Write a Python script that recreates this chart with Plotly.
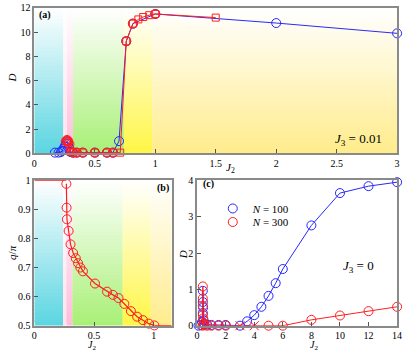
import plotly.graph_objects as go

W, H = 407, 353

# ---------------- data ----------------
# panel (a): J3 = 0.01
a_blue_x = [0.17, 0.2, 0.22, 0.23, 0.24, 0.25, 0.26, 0.27, 0.28, 0.29, 0.3, 0.32, 0.35, 0.4, 0.5, 0.6, 0.65, 0.7, 0.76, 0.815, 1.0, 2.0, 3.0]
a_blue_y = [0.05, 0.05, 0.1, 0.2, 0.35, 0.55, 0.8, 1.0, 0.8, 0.4, 0.1, 0.05, 0.05, 0.05, 0.05, 0.05, 0.05, 1.0, 9.25, 10.7, 11.5, 10.75, 9.9]
a_redc_x = [0.26, 0.27, 0.28, 0.29, 0.3, 0.32, 0.35, 0.4, 0.5, 0.6, 0.65, 0.76, 0.815, 1.0]
a_redc_y = [1.0, 1.1, 1.0, 0.75, 0.2, 0.05, 0.05, 0.05, 0.05, 0.05, 0.05, 9.25, 10.7, 11.5]
a_reds_x = [0.27, 0.28, 0.3, 0.32, 0.35, 0.4, 0.5, 0.6, 0.65, 0.71, 0.76, 0.815, 0.86, 0.9, 0.95, 1.0, 1.5]
a_reds_y = [1.0, 0.9, 0.1, 0.05, 0.05, 0.05, 0.05, 0.05, 0.05, 0.05, 9.25, 10.7, 11.05, 11.25, 11.4, 11.5, 11.2]

# panel (b): q/pi vs J2
b_x = [0.268, 0.27, 0.273, 0.287, 0.303, 0.325, 0.347, 0.366, 0.385, 0.407, 0.508, 0.609, 0.658, 0.705, 0.754, 0.809, 0.861, 0.91, 0.959, 1.005]
b_y = [0.988, 0.906, 0.866, 0.826, 0.78, 0.75, 0.732, 0.715, 0.70, 0.687, 0.645, 0.617, 0.606, 0.595, 0.575, 0.55, 0.531, 0.519, 0.507, 0.501]
b_left_x = [0.0, 0.268]
b_left_y = [1.0, 1.0]
b_right_x = [1.005, 1.15]
b_right_y = [0.5, 0.5]

# panel (c): J3 = 0
c_blue_x = [0.1, 0.25, 0.35, 0.4, 0.4, 0.4, 0.42, 0.45, 0.5, 0.7, 1.0, 1.5, 2.0, 3.0, 3.5, 4.0, 4.5, 5.0, 5.5, 6.0, 8.0, 10.0, 12.0, 14.0]
c_blue_y = [0.0, 0.02, 0.1, 0.35, 0.65, 0.96, 0.5, 0.15, 0.05, 0.03, 0.02, 0.02, 0.02, 0.0, 0.12, 0.29, 0.52, 0.82, 1.17, 1.56, 2.76, 3.65, 3.84, 3.95]
c_red_x = [0.38, 0.4, 0.4, 0.4, 0.4, 0.42, 0.45, 0.5, 0.7, 1.0, 1.5, 2.0, 3.0, 4.0, 5.0, 6.0, 8.0, 10.0, 12.0, 14.0]
c_red_y = [0.0, 0.3, 0.55, 0.75, 1.08, 0.2, 0.05, 0.02, 0.0, 0.0, 0.0, 0.0, 0.0, 0.0, 0.0, 0.0, 0.16, 0.28, 0.4, 0.52]
c_red_sym = ["circle-open"] * 12 + ["x-thin-open", "x-thin-open"] + ["circle-open"] * 6
legend_names = ["<i>N</i> = 100", "<i>N</i> = 300"]

# background phase regions (J2 boundaries) and top colours
region_edges = [0.0, 0.24, 0.27, 0.32, 0.74, 0.975]
region_colors = [(90, 213, 225), (255, 226, 236), (255, 188, 218), (168, 240, 118), (255, 246, 70), (255, 236, 140)]

BLUE = "rgb(40,40,255)"
RED = "rgb(255,30,30)"
FONT = "Liberation Serif"

fig = go.Figure()

def add_bg(xref, yref, xmax, ymin, ymax, nstrips=40):
    edges = region_edges + [xmax]
    for i, col in enumerate(region_colors):
        for k in range(nstrips):
            f = 1 - (k + 0.5) / nstrips  # 1 at top, 0 at bottom
            c = tuple(int(round(255 + (cc - 255) * f)) for cc in col)
            y0 = ymin + (ymax - ymin) * k / nstrips
            y1 = ymin + (ymax - ymin) * min(k + 1.6, nstrips) / nstrips
            fig.add_shape(type="rect", xref=xref, yref=yref, x0=edges[i], x1=edges[i + 1],
                          y0=y0, y1=y1, fillcolor="rgb(%d,%d,%d)" % c, line_width=0, layer="below")

add_bg("x", "y", 3.0, 0, 12)
add_bg("x2", "y2", 1.15, 0.5, 1.0)

circ = dict(symbol="circle-open", size=9, line=dict(width=1))
sq = dict(symbol="square-open", size=7, line=dict(width=1))

# panel a
fig.add_trace(go.Scatter(x=a_blue_x, y=a_blue_y, mode="lines+markers", xaxis="x", yaxis="y",
                         line=dict(color=BLUE, width=1), marker=dict(color=BLUE, **circ),
                         showlegend=False, cliponaxis=False))
fig.add_trace(go.Scatter(x=a_reds_x, y=a_reds_y, mode="lines+markers", xaxis="x", yaxis="y",
                         line=dict(color=RED, width=1), marker=dict(color=RED, **sq),
                         showlegend=False, cliponaxis=False))
fig.add_trace(go.Scatter(x=a_redc_x, y=a_redc_y, mode="markers", xaxis="x", yaxis="y",
                         marker=dict(color=RED, **circ), showlegend=False, cliponaxis=False))

# panel b
for xs, ys, md in [(b_left_x, b_left_y, "lines"), (b_right_x, b_right_y, "lines"), (b_x, b_y, "lines+markers")]:
    fig.add_trace(go.Scatter(x=xs, y=ys, mode=md, xaxis="x2", yaxis="y2",
                             line=dict(color=RED, width=1.2), marker=dict(color=RED, **circ),
                             showlegend=False, cliponaxis=False))

# panel c
fig.add_trace(go.Scatter(x=c_blue_x, y=c_blue_y, mode="lines+markers", xaxis="x3", yaxis="y3",
                         line=dict(color=BLUE, width=1), marker=dict(color=BLUE, **circ),
                         showlegend=False, cliponaxis=False))
fig.add_trace(go.Scatter(x=c_red_x, y=c_red_y, mode="lines+markers", xaxis="x3", yaxis="y3",
                         line=dict(color=RED, width=1), marker=dict(color=RED, symbol=c_red_sym, size=9, line=dict(width=1)),
                         showlegend=False, cliponaxis=False))
for nm, col, lg in zip(legend_names, [BLUE, RED], ["legend", "legend2"]):
    fig.add_trace(go.Scatter(x=[None], y=[None], mode="markers", xaxis="x3", yaxis="y3", name=nm,
                             marker=dict(color=col, **circ), showlegend=True, legend=lg))

def px_x(p):
    return p / W

def px_y(p):
    return 1 - p / H

ax_common = dict(showline=True, mirror=True, linecolor="#8a8a8a", linewidth=1.5, ticks="inside",
                 ticklen=4, tickcolor="#555", tickwidth=1, showgrid=False, zeroline=False,
                 tickfont=dict(family=FONT, size=10, color="black"))

leg_common = dict(xanchor="left", yanchor="middle", bgcolor="rgba(0,0,0,0)",
                  font=dict(family=FONT, size=11, color="black"), itemwidth=30)

fig.update_layout(
    width=W, height=H, margin=dict(l=0, r=0, t=0, b=0),
    paper_bgcolor="white", plot_bgcolor="white",
    xaxis=dict(domain=[px_x(32), px_x(402)], range=[0, 3], tickvals=[0, 0.5, 1, 1.5, 2, 2.5, 3],
               ticktext=["0", "0.5", "1", "1.5", "2", "2.5", "3"], anchor="y", **ax_common),
    yaxis=dict(domain=[px_y(153), px_y(3)], range=[0, 12], tickvals=[0, 2, 4, 6, 8, 10, 12], anchor="x", **ax_common),
    xaxis2=dict(domain=[px_x(32), px_x(172)], range=[0, 1.15], tickvals=[0, 0.5, 1],
                ticktext=["0", "0.5", "1"], anchor="y2", **ax_common),
    yaxis2=dict(domain=[px_y(331), px_y(181)], range=[0.5, 1.0], tickvals=[0.5, 0.6, 0.7, 0.8, 0.9, 1.0],
                ticktext=["0.5", "0.6", "0.7", "0.8", "0.9", "1"], anchor="x2", **ax_common),
    xaxis3=dict(domain=[px_x(198), px_x(402)], range=[0, 14], tickvals=list(range(0, 15, 2)), anchor="y3", **ax_common),
    yaxis3=dict(domain=[px_y(331), px_y(181)], range=[0, 4], tickvals=[0, 1, 2, 3, 4], anchor="x3", **ax_common),
    legend=dict(x=px_x(214), y=px_y(210), **leg_common),
    legend2=dict(x=px_x(214), y=px_y(224), **leg_common),
)

def ann(x, y, text, size=10, angle=0, xanchor="center"):
    fig.add_annotation(x=px_x(x), y=px_y(y), xref="paper", yref="paper", text=text, showarrow=False,
                       font=dict(family=FONT, size=size, color="black"), textangle=angle,
                       xanchor=xanchor, yanchor="middle")

J2 = "<i>J</i><sub>2</sub>"
ann(9, 75, "<i>D</i>", 11, -90)
ann(232, 168, J2, 11)
ann(9, 255, "<i>q</i>/<i>π</i>", 11, -90)
ann(91, 351, J2, 10)
ann(184, 258, "<i>D</i>", 11, -90)
ann(317, 351, J2, 10)
ann(43, 10, "<b>(a)</b>", 10)
ann(163, 189, "<b>(b)</b>", 10)
ann(210, 185, "<b>(c)</b>", 10)
ann(363, 139, "<i>J</i><sub>3</sub> = 0.01", 13)
ann(363, 270, "<i>J</i><sub>3</sub> = 0", 13)

fig.write_html("out.html", config={"displayModeBar": False},
               post_script="document.body.style.margin='0';document.body.style.overflow='hidden';")
